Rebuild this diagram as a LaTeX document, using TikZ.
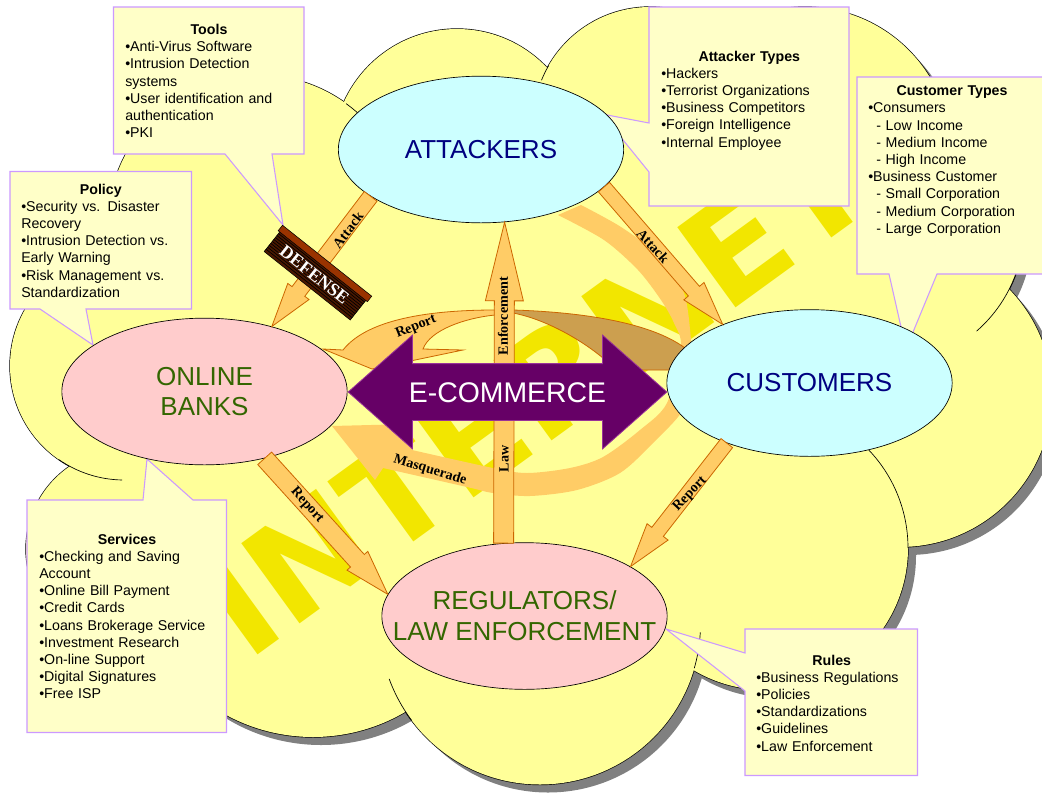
\documentclass[tikz,border=0pt]{standalone}
\usepackage{fontspec}
\setmainfont{Liberation Sans}
\newfontfamily\labelfont{Liberation Serif}
\newfontfamily\markfont{DejaVu Sans}
\usetikzlibrary{calc,shapes.geometric,shapes.arrows}

\definecolor{cloudyellow}{HTML}{FFFF99}
\definecolor{cloudshadow}{HTML}{808080}
\definecolor{markyellow}{HTML}{F2E600}
\definecolor{flowfill}{HTML}{FFCC66}
\definecolor{flowline}{HTML}{CC6600}
\definecolor{flowbrown}{HTML}{CC9F4F}
\definecolor{notefill}{HTML}{FFFFC8}
\definecolor{noteline}{HTML}{CC99FF}
\definecolor{goalblue}{HTML}{CCFFFF}
\definecolor{goalpink}{HTML}{FFCCCC}
\definecolor{goalnavy}{HTML}{000080}
\definecolor{goalgreen}{HTML}{336600}
\definecolor{tradepurple}{HTML}{660066}
\definecolor{tradeline}{HTML}{993399}
\definecolor{brickbar}{HTML}{993300}
\definecolor{brickbody}{HTML}{4A1800}

\def\lobes{258/225/150, 124/366/114, 126/549/100, 313/555/182, 457/153/124, 650/124/117, 805/153/146, 886/227/138, 900/395/152, 766/548/142, 540/624/160.5}
\def\shadowlobes{313/555/182, 805/153/146, 886/227/138, 900/395/152, 766/548/142, 540/624/160.5}
\def\notetitle#1{\hspace*{\fill}\textbf{#1}\hspace*{\fill}\mbox{}\\}
\def\notesub{\hspace*{6pt}- }
\def\lobearc(#1,#2)(#3:#4:#5){\draw[lobeline] (#1,#2) ++(#3:#5) arc[start angle=#3, end angle=#4, radius=#5];}
\def\blockarrow#1#2#3(#4)(#5){
	\coordinate (neck) at ($(#5)!#1!(#4)$);
	\draw[flowarrow] ($(#4)!#2!90:(#5)$) -- ($(neck)!#2!90:(#5)$) -- ($(neck)!#3!90:(#5)$) -- (#5)
		-- ($(neck)!#3!-90:(#5)$) -- ($(neck)!#2!-90:(#5)$) -- ($(#4)!#2!-90:(#5)$) -- cycle;
}

\tikzset{
	lobeline/.style={black, line width=0.5pt},
	flowarrow/.style={fill=flowfill, draw=flowline, line width=0.6pt},
	flowlabel/.style={font=\labelfont\bfseries\fontsize{10.6}{12}\selectfont, inner sep=0pt},
	notebox/.style={fill=notefill, draw=noteline, line width=0.8pt},
	notetext/.style={font=\fontsize{10.65}{12.9}\selectfont, align=left, anchor=north west, inner sep=0pt},
	goal/.style={shape=ellipse, draw=black, line width=0.5pt, inner sep=0pt, minimum width=214pt, minimum height=110pt, align=center, font=\fontsize{19.5}{23}\selectfont},
}

\begin{document}
\begin{tikzpicture}[x=0.75pt, y=-0.75pt]
	\clip (0,0) rectangle (1042,793);
	\fill[white] (0,0) rectangle (1042,793);
	%%%%% CLOUD %%%%%
	\foreach \cx/\cy/\r in \shadowlobes {
		\fill[cloudshadow] (\cx+8,\cy+8) circle[radius=\r];
	}
	\foreach \cx/\cy/\r in \lobes {
		\draw[black, line width=1pt] (\cx,\cy) circle[radius=\r];
	}
	\foreach \cx/\cy/\r in \lobes {
		\fill[cloudyellow] (\cx,\cy) circle[radius=\r];
	}
	\fill[cloudyellow] (500,400) circle[radius=300];
	\lobearc(124,366)(91:125:114)
	\lobearc(540,624)(143:160:160.5)
	\lobearc(540,624)(3:16:160.5)
	\lobearc(766,548)(-44:0:142)
	\lobearc(886,227)(20:49:138)
	\lobearc(258,225)(-54:-45:150)
	\lobearc(650,124)(202:210:117)

	\node[font=\markfont\bfseries\fontsize{102}{102}\selectfont, text=markyellow, rotate=36, anchor=base west, inner sep=0pt] (internet) at (247,663) {\scalebox{1.04}[1]{INTERNET}};

	%%%%% CURVED FLOWS %%%%%
	\fill[flowfill] plot[smooth] coordinates {(581,205) (621,227) (661,257) (684,293) (691,340) (692,375) (683,410) (653,443) (620,473) (577,490) (530,496) (493,493) (467,487) (383,468)}
		-- (375,480) -- (332,426) -- (410,424) -- (412,450)
		-- plot[smooth] coordinates {(412,450) (493,468) (527,473) (570,468) (603,457) (640,430) (667,403) (681,347) (674,323) (661,300) (638,270) (604,240) (558,215)} -- cycle;
	\draw[flowarrow, fill=flowbrown] (513,310) .. controls (580,312) and (650,322) .. (685,348) -- (690,370) -- (603,370) -- (603,358) .. controls (575,335) and (540,318) .. (513,313) -- cycle;
	\draw[flowarrow] (323,349) -- (343,350) .. controls (365,322) and (420,310) .. (495,310) -- (495,315) .. controls (465,318) and (430,330) .. (423,349) -- (463,350) -- (372,369) -- cycle;

	%%%%% NOTES %%%%%
	\draw[notebox] (113.5,7) -- (304,7) -- (304,154) -- (272,154) -- (283,225) -- (225,154) -- (113.5,154) -- cycle;
	\draw[notebox] (10,171.5) -- (191.5,171.5) -- (191.5,309) -- (86,309) -- (93,345) -- (40,309) -- (10,309) -- cycle;
	\draw[notebox] (649,7) -- (849,7) -- (849,206) -- (649,206) -- (649,172) -- (602,114) -- (649,123) -- cycle;
	\draw[notebox] (857,77) -- (1050,77) -- (1050,274) -- (937,274) -- (906,349) -- (889,274) -- (857,274) -- cycle;
	\draw[notebox] (27,500) -- (143,500) -- (147,459) -- (193,500) -- (226.5,500) -- (226.5,732.5) -- (27,732.5) -- cycle;
	\draw[notebox] (745,629) -- (917.5,629) -- (917.5,775.5) -- (745,775.5) -- (745,691) -- (666,629) -- (745,653) -- cycle;

	\node[notetext, text width=125.6pt] (tools) at (125,24) {\notetitle{Tools}•Anti-Virus Software\\•Intrusion Detection\\systems\\•User identification and\\authentication\\•PKI};
	\node[notetext, text width=119.3pt] (policy) at (21,183.5) {\notetitle{Policy}•Security vs. Disaster\\Recovery\\•Intrusion Detection vs.\\Early Warning\\•Risk Management vs.\\Standardization};
	\node[notetext, text width=132pt] (attackertypes) at (661,50.5) {\notetitle{Attacker Types}•Hackers\\•Terrorist Organizations\\•Business Competitors\\•Foreign Intelligence\\•Internal Employee};
	\node[notetext, text width=125.6pt] (customertypes) at (868,85.5) {\notetitle{Customer Types}•Consumers\\\notesub Low Income\\\notesub Medium Income\\\notesub High Income\\•Business Customer\\\notesub Small Corporation\\\notesub Medium Corporation\\\notesub Large Corporation};
	\node[notetext, text width=131.6pt] (services) at (39,533.5) {\notetitle{Services}•Checking and Saving\\Account\\•Online Bill Payment\\•Credit Cards\\•Loans Brokerage Service\\•Investment Research\\•On-line Support\\•Digital Signatures\\•Free ISP};
	\node[notetext, text width=113.3pt] (rules) at (756,654.5) {\notetitle{Rules}•Business Regulations\\•Policies\\•Standardizations\\•Guidelines\\•Law Enforcement};

	%%%%% GOALS %%%%%
	\node[goal, fill=goalblue, text=goalnavy] (attackers) at (481,149.5) {\raisebox{-1pt}{ATTACKERS}};
	\node[goal, fill=goalpink, text=goalgreen] (banks) at (204.5,391.5) {\raisebox{-0.7pt}{ONLINE}\\\raisebox{-0.7pt}{BANKS}};
	\node[goal, fill=goalblue, text=goalnavy] (customers) at (809.5,383) {\raisebox{-1.2pt}{CUSTOMERS}};
	\node[goal, fill=goalpink, text=goalgreen] (regulators) at (524.5,616) {\makebox[0pt]{REGULATORS/}\\\makebox[0pt]{LAW ENFORCEMENT}};

	%%%%% STRAIGHT FLOWS %%%%%
	\blockarrow{33pt}{6pt}{10pt}(attackers.203)(banks.44)
	\blockarrow{33pt}{5.5pt}{10pt}(attackers.-17)(customers.146)
	\blockarrow{33pt}{5.5pt}{10pt}(customers.216)(regulators.25)
	\blockarrow{34pt}{7pt}{10.5pt}(banks.-48)(regulators.171)
	\blockarrow{59pt}{7.5pt}{14.25pt}(regulators.106)(attackers.-72)

	%%%%% DEFENSE %%%%%
	\begin{scope}[shift={(326.5,261.5)}, rotate=-38.5]
		\fill[brickbody, draw=black, line width=0.4pt] (-55,5) rectangle (55,31);
		\foreach \n in {8,10.5,...,30} {
			\draw[black, line width=0.5pt] (-55,\n) -- (55,\n);
		}
		\draw[fill=brickbar, line width=0.4pt] (-57,-1) rectangle (57,6);
		\node[font=\labelfont\bfseries\fontsize{13.5}{14}\selectfont, text=white, inner sep=0pt, transform shape] (defense) at (-1,18) {DEFENSE};
	\end{scope}

	%%%%% E-COMMERCE %%%%%
	\node[shape=double arrow, fill=tradepurple, draw=tradeline, line width=0.6pt, text=white, font=\fontsize{21.3}{24}\selectfont,
		minimum height=239pt, minimum width=85pt, double arrow head extend=21.4pt, double arrow tip angle=83, inner xsep=0pt, inner ysep=13.5pt, text height=15pt, text depth=0pt] (ecommerce) at (507.5,392) {E-COMMERCE};

	%%%%% FLOW LABELS %%%%%
	\node[flowlabel, rotate=52.5] (attackleft) at (348,230) {Attack};
	\node[flowlabel, rotate=-48] (attackright) at (653,246) {Attack};
	\node[flowlabel, rotate=90] (enforcement) at (503,316) {Enforcement};
	\node[flowlabel, rotate=90] (law) at (504,459) {Law};
	\node[flowlabel, rotate=22] (reportbanks) at (416,327) {Report};
	\node[flowlabel, rotate=-48] (reportregulators) at (307,505.5) {Report};
	\node[flowlabel, rotate=47] (reportcustomers) at (690,494) {Report};
	\node[flowlabel, rotate=-17] (masquerade) at (430,470) {Masquerade};
\end{tikzpicture}
\end{document}
